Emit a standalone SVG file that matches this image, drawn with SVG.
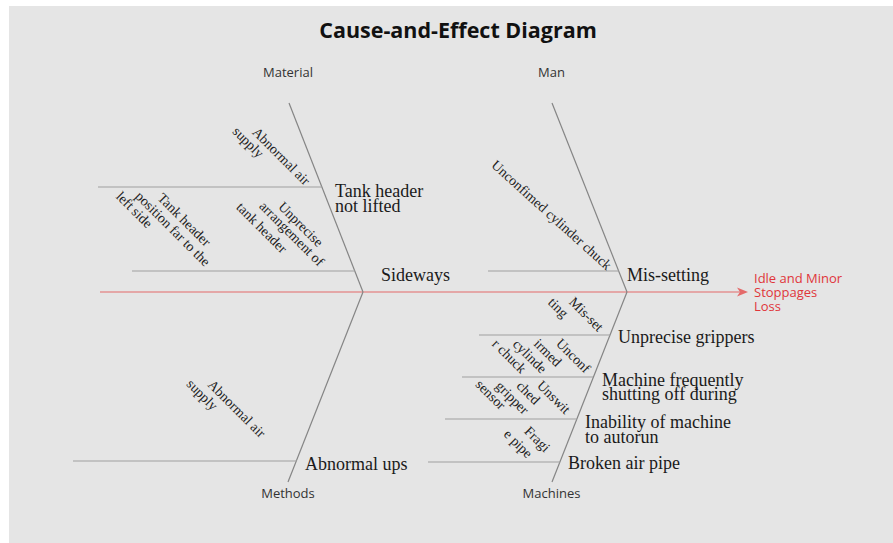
<svg xmlns="http://www.w3.org/2000/svg" width="893" height="543" viewBox="0 0 893 543">
<defs>
<style>
.bg{fill:#e5e5e5}
.bone{stroke:#858585;stroke-width:1.2;fill:none}
.sub{stroke:#a0a0a0;stroke-width:1.2;fill:none}
.spine{stroke:#e46a6a;stroke-width:1.2;fill:none}
.title{font-family:"Open Sans","Liberation Sans",sans-serif;font-weight:700;font-size:21.5px;fill:#111;text-anchor:middle}
.cat{font-family:"Open Sans","Liberation Sans",sans-serif;font-size:13px;fill:#333;text-anchor:middle}
.big{font-family:"Liberation Serif","Times New Roman",serif;font-size:18px;fill:#1a1a1a}
.small{font-family:"Liberation Serif","Times New Roman",serif;font-size:14px;fill:#1e1e1e;text-anchor:middle}
.effect{font-family:"Open Sans","Liberation Sans",sans-serif;font-size:13px;fill:#e0353a}
</style>
</defs>
<rect x="0" y="0" width="893" height="543" fill="#ffffff"/>
<rect class="bg" x="9" y="6" width="884" height="537"/>
<text class="title" x="458" y="38">Cause-and-Effect Diagram</text>

<g id="connectors">
<line class="spine" x1="100" y1="292" x2="742" y2="292"/>
<path d="M737,287.5 L748,292 L737,296.5 L740,292 Z" fill="#e46a6a"/>
<line class="bone" x1="289" y1="103" x2="363" y2="292"/>
<line class="bone" x1="363" y1="292" x2="288" y2="482"/>
<line class="bone" x1="552" y1="103" x2="627" y2="292"/>
<line class="bone" x1="627" y1="292" x2="552" y2="482"/>
<line class="sub" x1="98" y1="187" x2="322" y2="187"/>
<line class="sub" x1="132" y1="271" x2="355" y2="271"/>
<line class="sub" x1="73" y1="461" x2="297" y2="461"/>
<line class="sub" x1="488" y1="271" x2="619" y2="271"/>
<line class="sub" x1="479" y1="335" x2="610" y2="335"/>
<line class="sub" x1="462" y1="377" x2="593" y2="377"/>
<line class="sub" x1="445" y1="419" x2="577" y2="419"/>
<line class="sub" x1="428" y1="462" x2="560" y2="462"/>
</g>

<g id="effect">
<text class="effect" x="754" y="283">Idle and Minor</text>
<text class="effect" x="754" y="297">Stoppages</text>
<text class="effect" x="754" y="311">Loss</text>
</g>

<g id="cat-material"><text class="cat" x="288" y="77">Material</text></g>
<g id="cat-man"><text class="cat" x="551.5" y="77">Man</text></g>
<g id="cat-methods"><text class="cat" x="288" y="498">Methods</text></g>
<g id="cat-machines"><text class="cat" x="551.5" y="498">Machines</text></g>

<g id="tank-header-not-lifted">
<text class="big" x="335" y="197">Tank header</text>
<text class="big" x="335" y="212">not lifted</text>
<text class="small" transform="translate(278,159.5) rotate(45)">Abnormal air</text>
<text class="small" transform="translate(245,145.5) rotate(45)">supply</text>
</g>

<g id="sideways">
<text class="big" x="381" y="281">Sideways</text>
<text class="small" transform="translate(181,223) rotate(45)">Tank header</text>
<text class="small" transform="translate(169.5,232) rotate(45)">position far to the</text>
<text class="small" transform="translate(131,213) rotate(45)">left side</text>
<text class="small" transform="translate(297.5,227.5) rotate(45)">Unprecise</text>
<text class="small" transform="translate(288.5,237) rotate(45)">arrangement of</text>
<text class="small" transform="translate(258.5,231) rotate(45)">tank header</text>
</g>

<g id="mis-setting">
<text class="big" x="627" y="281">Mis-setting</text>
<text class="small" transform="translate(548.5,218.5) rotate(42)">Unconfimed cylinder chuck</text>
</g>

<g id="unprecise-grippers">
<text class="big" x="618" y="343">Unprecise grippers</text>
<text class="small" transform="translate(583,317.5) rotate(45)">Mis-set</text>
<text class="small" transform="translate(555,311) rotate(45)">ting</text>
</g>

<g id="machine-shutting-off">
<text class="big" x="602" y="386">Machine frequently</text>
<text class="big" x="602" y="400">shutting off during</text>
<text class="small" transform="translate(570,359) rotate(45)">Unconf</text>
<text class="small" transform="translate(544.5,356) rotate(45)">irmed</text>
<text class="small" transform="translate(526.5,359.5) rotate(45)">cylinde</text>
<text class="small" transform="translate(506,359.5) rotate(45)">r chuck</text>
</g>

<g id="inability-autorun">
<text class="big" x="585" y="428">Inability of machine</text>
<text class="big" x="585" y="443">to autorun</text>
<text class="small" transform="translate(550.5,400.5) rotate(45)">Unswit</text>
<text class="small" transform="translate(525,396) rotate(45)">ched</text>
<text class="small" transform="translate(509,401) rotate(45)">gripper</text>
<text class="small" transform="translate(487.5,398) rotate(45)">sensor</text>
</g>

<g id="broken-air-pipe">
<text class="big" x="568" y="469">Broken air pipe</text>
<text class="small" transform="translate(534,442.5) rotate(45)">Fragi</text>
<text class="small" transform="translate(515,447) rotate(45)">e pipe</text>
</g>

<g id="abnormal-ups">
<text class="big" x="305" y="470">Abnormal ups</text>
<text class="small" transform="translate(233.5,412) rotate(45)">Abnormal air</text>
<text class="small" transform="translate(199,398) rotate(45)">supply</text>
</g>
</svg>
